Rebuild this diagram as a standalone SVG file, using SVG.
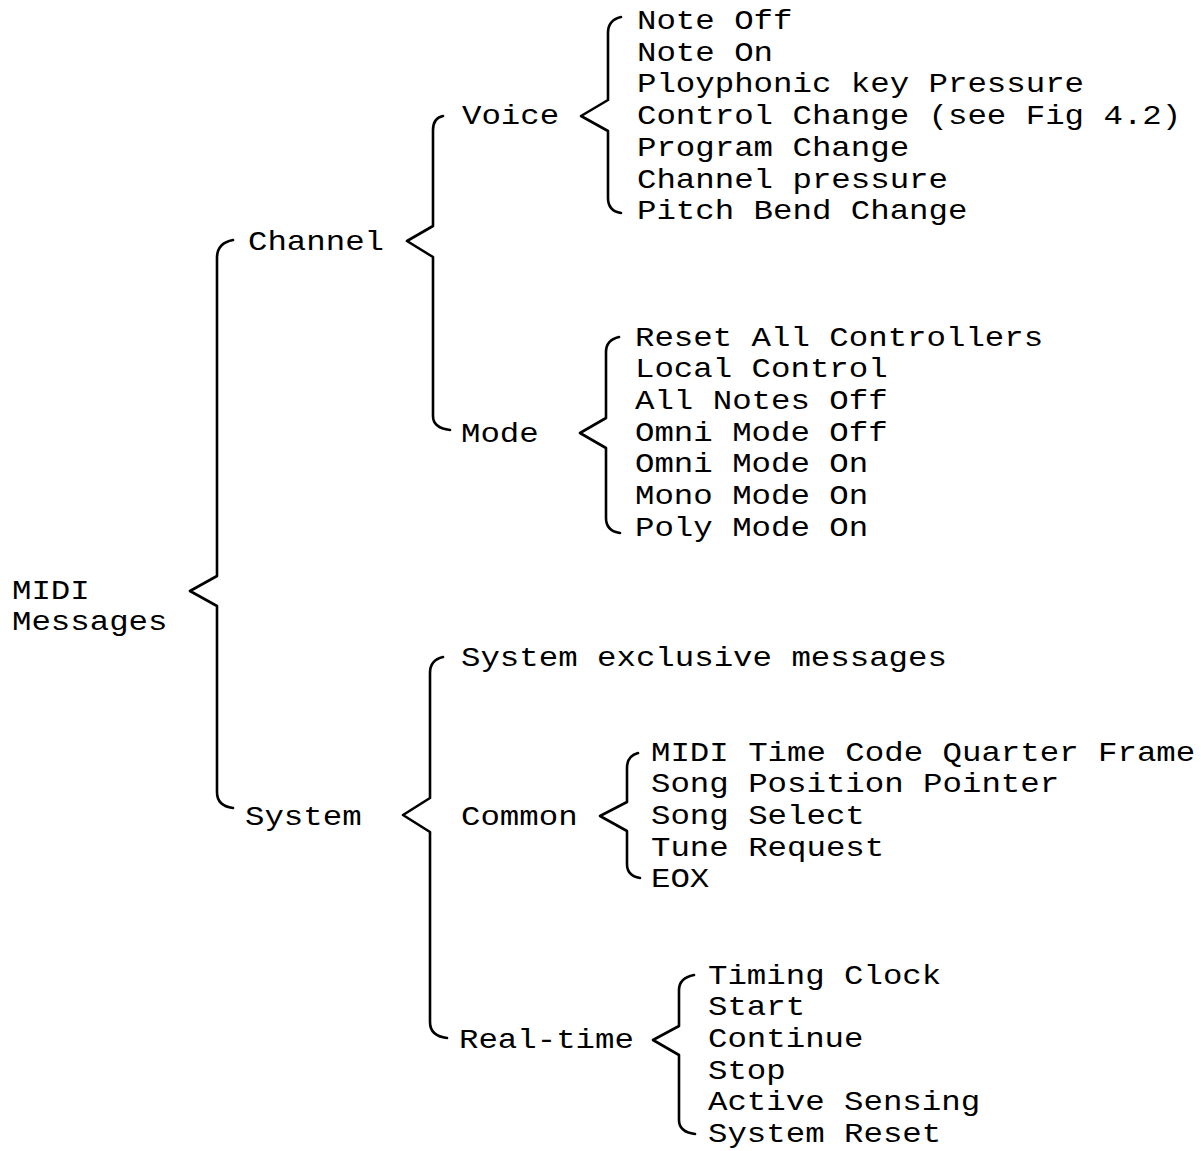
<svg xmlns="http://www.w3.org/2000/svg" width="1201" height="1151" viewBox="0 0 1201 1151">
<style>
.t{font-family:"Liberation Mono","Courier New",monospace;font-size:27px;fill:#000;}
.b{fill:none;stroke:#000;stroke-width:2.6;stroke-linejoin:round;stroke-linecap:round;}
</style>
<rect width="1201" height="1151" fill="#fff"/>
<g id="connectors">
<path class="b" d="M233,240 Q217,243 217,258 L217,576 L190,591 L217,606 L217,792 Q217,806 233,808"/>
<path class="b" d="M443,116 Q433,118 433,130 L433,226 L407,241 L433,257 L433,416 Q433,428 450,430"/>
<path class="b" d="M621,17 Q608,20 608,33 L608,100 L581,116 L608,131 L608,198 Q608,211 621,213"/>
<path class="b" d="M619,337 Q606,340 606,352 L606,418 L580,433 L606,448 L606,518 Q606,531 620,533"/>
<path class="b" d="M443,657 Q430,660 430,673 L430,798 L403,815 L430,832 L430,1022 Q430,1036 447,1038"/>
<path class="b" d="M638,753 Q627,756 627,768 L627,802 L600,816 L627,831 L627,864 Q627,876 640,878"/>
<path class="b" d="M694,975 Q679,978 679,990 L679,1026 L653,1040 L679,1055 L679,1120 Q679,1132 695,1134"/>
</g>
<g id="root">
<text class="t" transform="translate(12,598.5) scale(1.2,1)">MIDI</text>
<text class="t" transform="translate(12,629.5) scale(1.2,1)">Messages</text>
</g>
<g id="channel"><text class="t" transform="translate(248,250) scale(1.2,1)">Channel</text></g>
<g id="system"><text class="t" transform="translate(245,824.5) scale(1.2,1)">System</text></g>
<g id="voice"><text class="t" transform="translate(462,123.5) scale(1.2,1)">Voice</text></g>
<g id="mode"><text class="t" transform="translate(461,441.5) scale(1.2,1)">Mode</text></g>
<g id="sysex"><text class="t" transform="translate(461,665.5) scale(1.2,1)">System exclusive messages</text></g>
<g id="common"><text class="t" transform="translate(461,824.5) scale(1.2,1)">Common</text></g>
<g id="realtime"><text class="t" transform="translate(459,1047.5) scale(1.2,1)">Real-time</text></g>
<g id="voice-items">
<g id="note-off"><text class="t" transform="translate(637,29) scale(1.2,1)">Note Off</text></g>
<g id="note-on"><text class="t" transform="translate(637,60.7) scale(1.2,1)">Note On</text></g>
<g id="poly-key"><text class="t" transform="translate(637,92.4) scale(1.2,1)">Ployphonic key Pressure</text></g>
<g id="control-change"><text class="t" transform="translate(637,124.1) scale(1.2,1)">Control Change (see Fig 4.2)</text></g>
<g id="program-change"><text class="t" transform="translate(637,155.8) scale(1.2,1)">Program Change</text></g>
<g id="channel-pressure"><text class="t" transform="translate(637,187.5) scale(1.2,1)">Channel pressure</text></g>
<g id="pitch-bend"><text class="t" transform="translate(637,219.2) scale(1.2,1)">Pitch Bend Change</text></g>
</g>
<g id="mode-items">
<g id="reset-all"><text class="t" transform="translate(635,345.5) scale(1.2,1)">Reset All Controllers</text></g>
<g id="local-control"><text class="t" transform="translate(635,377.2) scale(1.2,1)">Local Control</text></g>
<g id="all-notes-off"><text class="t" transform="translate(635,408.9) scale(1.2,1)">All Notes Off</text></g>
<g id="omni-off"><text class="t" transform="translate(635,440.6) scale(1.2,1)">Omni Mode Off</text></g>
<g id="omni-on"><text class="t" transform="translate(635,472.3) scale(1.2,1)">Omni Mode On</text></g>
<g id="mono-on"><text class="t" transform="translate(635,504) scale(1.2,1)">Mono Mode On</text></g>
<g id="poly-on"><text class="t" transform="translate(635,535.7) scale(1.2,1)">Poly Mode On</text></g>
</g>
<g id="common-items">
<g id="mtc"><text class="t" transform="translate(651,760.5) scale(1.2,1)">MIDI Time Code Quarter Frame</text></g>
<g id="spp"><text class="t" transform="translate(651,792.2) scale(1.2,1)">Song Position Pointer</text></g>
<g id="song-select"><text class="t" transform="translate(651,823.9) scale(1.2,1)">Song Select</text></g>
<g id="tune-request"><text class="t" transform="translate(651,855.6) scale(1.2,1)">Tune Request</text></g>
<g id="eox"><text class="t" transform="translate(651,887.3) scale(1.2,1)">EOX</text></g>
</g>
<g id="realtime-items">
<g id="timing-clock"><text class="t" transform="translate(708,983.5) scale(1.2,1)">Timing Clock</text></g>
<g id="start"><text class="t" transform="translate(708,1015.2) scale(1.2,1)">Start</text></g>
<g id="continue"><text class="t" transform="translate(708,1046.9) scale(1.2,1)">Continue</text></g>
<g id="stop"><text class="t" transform="translate(708,1078.6) scale(1.2,1)">Stop</text></g>
<g id="active-sensing"><text class="t" transform="translate(708,1110.3) scale(1.2,1)">Active Sensing</text></g>
<g id="system-reset"><text class="t" transform="translate(708,1142) scale(1.2,1)">System Reset</text></g>
</g>
</svg>
